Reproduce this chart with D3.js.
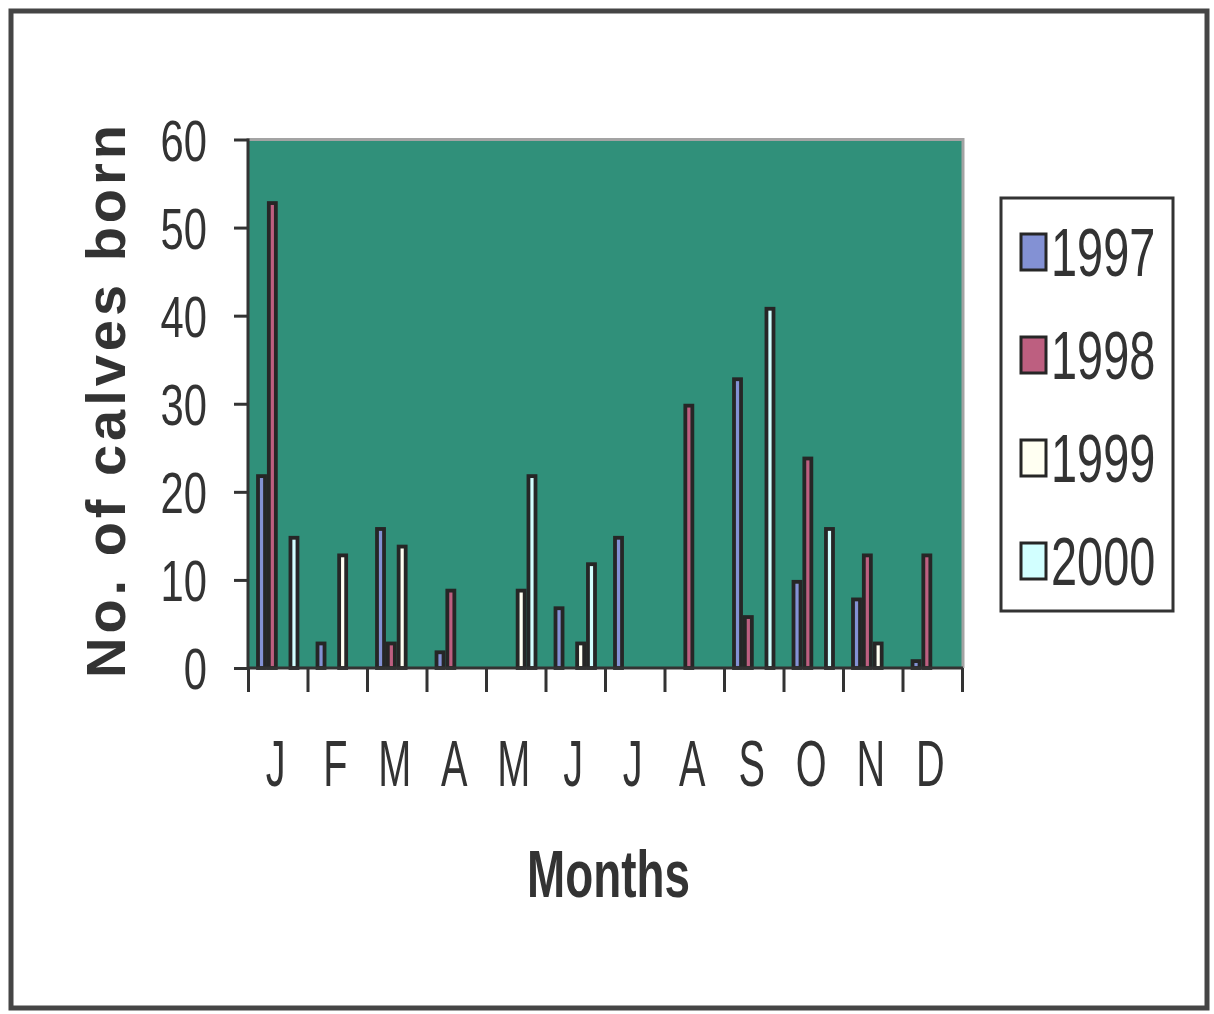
<!DOCTYPE html>
<head>
    <title></title>
    <meta charset="utf-8">
    <script src="https://d3js.org/d3.v7.min.js"></script>
    <style>
        body { margin: 0; background: #fff; }
        text { fill: #333; font-family: "Liberation Sans", Arial, sans-serif; }
    </style>
</head>
<body>
    <svg id="svg" width="1214" height="1014"></svg>
    <script type="text/javascript">
    // data
    const months = ["J", "F", "M", "A", "M", "J", "J", "A", "S", "O", "N", "D"];
    const years = ["1997", "1998", "1999", "2000"];
    const calves1997 = [22, 3, 16, 2, 0, 7, 15, 0, 33, 10, 8, 1];
    const calves1998 = [53, 0, 3, 9, 0, 0, 0, 30, 6, 24, 13, 13];
    const calves1999 = [0, 13, 14, 0, 9, 3, 0, 0, 0, 0, 3, 0];
    const calves2000 = [15, 0, 0, 0, 22, 12, 0, 0, 41, 16, 0, 0];
    const yTicks = [0, 10, 20, 30, 40, 50, 60];
    const colors = ["#8391d4", "#bd5f80", "#fffff2", "#d2ffff"];

    const series = [calves1997, calves1998, calves1999, calves2000];

    const svg = d3.select("#svg");
    const plotL = 248, plotR = 962, plotT = 139.5, plotB = 668;

    // outer frame
    svg.append("rect")
        .attr("x", 11).attr("y", 11).attr("width", 1196).attr("height", 997)
        .attr("fill", "none").attr("stroke", "#454545").attr("stroke-width", 5);

    const y = d3.scaleLinear().domain([0, 60]).range([plotB, plotT]);
    const x0 = d3.scaleBand().domain(d3.range(months.length)).range([plotL, plotR]);
    const x1 = d3.scaleBand().domain(years).range([0, x0.bandwidth()])
        .paddingInner(0).paddingOuter(0.75);
    const xEdge = d3.scaleLinear().domain([0, months.length]).range([plotL, plotR]);

    // plot area
    svg.append("rect")
        .attr("x", plotL).attr("y", plotT)
        .attr("width", plotR - plotL).attr("height", plotB - plotT)
        .attr("fill", "#30907a");
    svg.append("path")
        .attr("d", "M" + plotL + "," + plotT + "H" + (plotR + 1) + "V" + plotB)
        .attr("fill", "none").attr("stroke", "#a3a3a3").attr("stroke-width", 3);

    // bars
    const sw = 3.8;
    const rows = [];
    months.forEach(function (m, i) {
        years.forEach(function (yr, j) {
            if (series[j][i] > 0) rows.push({ month: i, year: yr, value: series[j][i], k: j });
        });
    });
    svg.append("g").selectAll("rect")
        .data(rows)
        .enter().append("rect")
        .attr("x", function (d) { return x0(d.month) + x1(d.year) + sw / 2; })
        .attr("width", x1.bandwidth() - sw)
        .attr("y", function (d) { return y(d.value) + sw / 2; })
        .attr("height", function (d) { return plotB - y(d.value) - sw / 2; })
        .attr("fill", function (d) { return colors[d.k]; })
        .attr("stroke", "#262626")
        .attr("stroke-width", sw);

    // y axis
    const yAxis = svg.append("g")
        .attr("transform", "translate(" + plotL + ",0)")
        .call(d3.axisLeft(y).tickValues(yTicks).tickSize(14).tickFormat(""));
    yAxis.selectAll("path, line").attr("stroke", "#333").attr("stroke-width", 3);
    yAxis.select("path").attr("d", "M0," + (plotT - 1) + "V" + (plotB + 1));

    yTicks.forEach(function (t) {
        svg.append("g")
            .attr("transform", "translate(207," + (y(t) + 21) + ") scale(0.72,1)")
            .append("text")
            .attr("text-anchor", "end")
            .attr("font-size", 58)
            .text(t);
    });

    // x axis
    const xAxis = svg.append("g")
        .attr("transform", "translate(0," + plotB + ")")
        .call(d3.axisBottom(xEdge).tickValues(d3.range(months.length + 1)).tickSize(24).tickFormat(""));
    xAxis.selectAll("path, line").attr("stroke", "#333").attr("stroke-width", 3);
    xAxis.select("path").attr("d", "M" + (plotL - 1) + ",0H" + (plotR + 1));

    months.forEach(function (m, i) {
        svg.append("g")
            .attr("transform", "translate(" + (x0(i) + x0.bandwidth() / 2 - 2) + ",786) scale(0.62,1)")
            .append("text")
            .attr("text-anchor", "middle")
            .attr("font-size", 64)
            .text(m);
    });

    // axis titles
    svg.append("text")
        .attr("transform", "translate(125,678) rotate(-90)")
        .attr("font-size", 56)
        .attr("font-weight", "bold")
        .attr("textLength", 553)
        .attr("lengthAdjust", "spacing")
        .text("No. of calves born");

    svg.append("text")
        .attr("x", 527).attr("y", 897)
        .attr("font-size", 66)
        .attr("font-weight", "bold")
        .attr("textLength", 163)
        .attr("lengthAdjust", "spacingAndGlyphs")
        .text("Months");

    // legend
    const legend = svg.append("g");
    legend.append("rect")
        .attr("x", 1001).attr("y", 198).attr("width", 172).attr("height", 413)
        .attr("fill", "#fff").attr("stroke", "#333").attr("stroke-width", 3);
    years.forEach(function (yr, j) {
        const cy = 252 + j * 103;
        legend.append("rect")
            .attr("x", 1021).attr("y", cy - 18).attr("width", 25).attr("height", 36)
            .attr("fill", colors[j]).attr("stroke", "#262626").attr("stroke-width", 3);
        legend.append("g")
            .attr("transform", "translate(1051," + (cy + 24) + ") scale(0.69,1)")
            .append("text")
            .attr("font-size", 68)
            .text(yr);
    });
    </script>
</body>
